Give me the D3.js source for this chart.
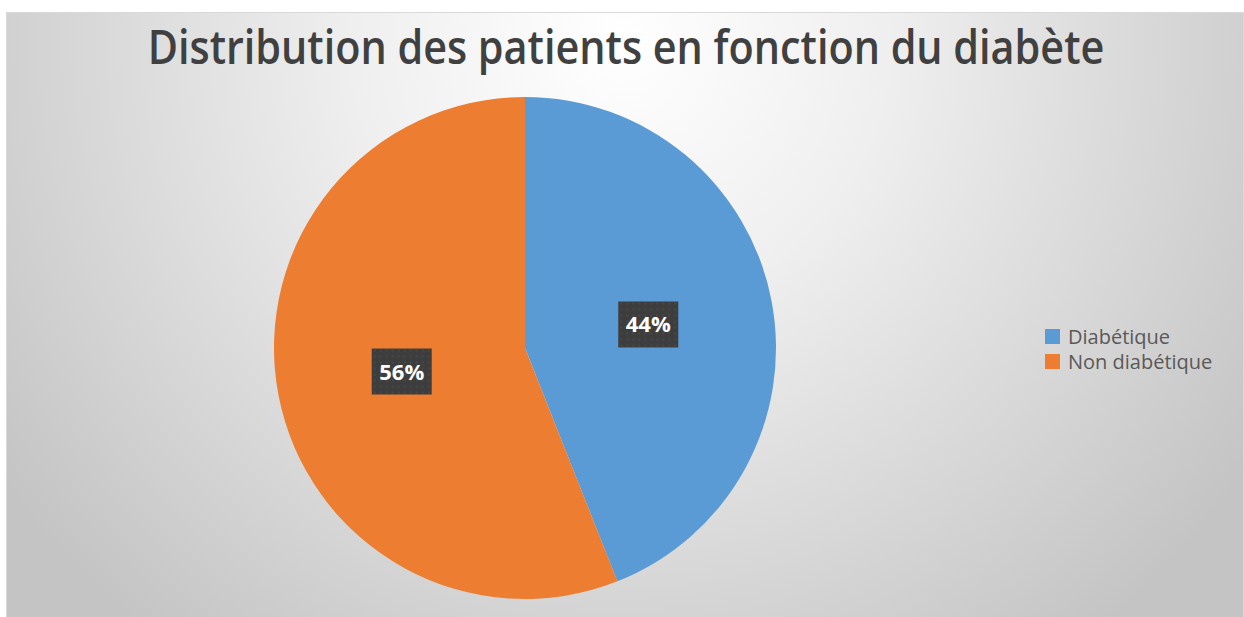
<!DOCTYPE html>
<html>
<head>
<meta charset="utf-8">
<script src="https://cdn.jsdelivr.net/npm/d3@7"></script>
<style>
  body { margin: 0; background: #fff; }
</style>
</head>
<body>
<script>
// données du graphique
const categories = ["Diabétique", "Non diabétique"]
const values = [44, 56]
const colors = ["#5b9bd5", "#ed7d31"]
const title = "Distribution des patients en fonction du diabète"

const width = 1244
const height = 617

const svg = d3.select("body")
    .append("svg")
    .attr("width", width)
    .attr("height", height)

const defs = svg.append("defs")

const grad = defs.append("radialGradient")
    .attr("id", "bg")
    .attr("gradientUnits", "userSpaceOnUse")
    .attr("cx", 620).attr("cy", 40)
    .attr("r", 760)
grad.append("stop").attr("offset", "0%").attr("stop-color", "#ffffff")
grad.append("stop").attr("offset", "35%").attr("stop-color", "#efefef")
grad.append("stop").attr("offset", "100%").attr("stop-color", "#c4c4c4")

// petit motif pointillé des étiquettes
const pat = defs.append("pattern")
    .attr("id", "dots")
    .attr("width", 6).attr("height", 6)
    .attr("patternUnits", "userSpaceOnUse")
pat.append("rect").attr("width", 6).attr("height", 6).attr("fill", "#3d3d3d")
pat.append("circle").attr("cx", 3).attr("cy", 3).attr("r", 0.8).attr("fill", "#555")

// zone du graphique
svg.append("rect")
    .attr("x", 6.5).attr("y", 12.5)
    .attr("width", 1237).attr("height", 610)
    .attr("fill", "url(#bg)")
    .attr("stroke", "#d9d9d9")

// titre (police resserrée horizontalement pour coller à la largeur)
const titleG = svg.append("g").attr("transform", "translate(626,64)")
const titleText = titleG.append("text")
    .attr("text-anchor", "middle")
    .attr("font-family", "Open Sans, sans-serif")
    .attr("font-weight", 600)
    .attr("font-size", 47)
    .attr("fill", "#404040")
    .text(title)

const tw = titleText.node().getComputedTextLength()
titleText.attr("transform", `scale(${957 / tw},1)`)

// camembert
const cx = 525, cy = 348, r = 251

const pie = d3.pie().sort(null).value(d => d)
const arcs = pie(values)
const arc = d3.arc().innerRadius(0).outerRadius(r)
const labelArc = d3.arc().innerRadius(r * 0.5).outerRadius(r * 0.5)

const g = svg.append("g").attr("transform", `translate(${cx},${cy})`)

g.selectAll(".slice")
    .data(arcs)
    .enter()
    .append("path")
    .attr("class", "slice")
    .attr("d", arc)
    .attr("fill", (d, i) => colors[i])

const labels = g.selectAll(".lbl")
    .data(arcs)
    .enter()
    .append("g")
    .attr("class", "lbl")
    .attr("transform", d => `translate(${labelArc.centroid(d)})`)

labels.append("rect")
    .attr("x", -30).attr("y", -23)
    .attr("width", 60).attr("height", 46)
    .attr("fill", "url(#dots)")

labels.append("text")
    .attr("text-anchor", "middle")
    .attr("y", 8)
    .attr("font-family", "Open Sans, sans-serif")
    .attr("font-weight", 700)
    .attr("font-size", 22)
    .attr("fill", "#ffffff")
    .text(d => d.data + "%")

// légende
const legend = svg.append("g").attr("transform", "translate(1045,329)")

const items = legend.selectAll(".item")
    .data(categories)
    .enter()
    .append("g")
    .attr("class", "item")
    .attr("transform", (d, i) => `translate(0,${i * 25})`)

items.append("rect")
    .attr("width", 15).attr("height", 15)
    .attr("fill", (d, i) => colors[i])

items.append("text")
    .attr("x", 23)
    .attr("y", 15)
    .attr("font-family", "Open Sans, sans-serif")
    .attr("font-size", 20)
    .attr("fill", "#595959")
    .text(d => d)
</script>
</body>
</html>
